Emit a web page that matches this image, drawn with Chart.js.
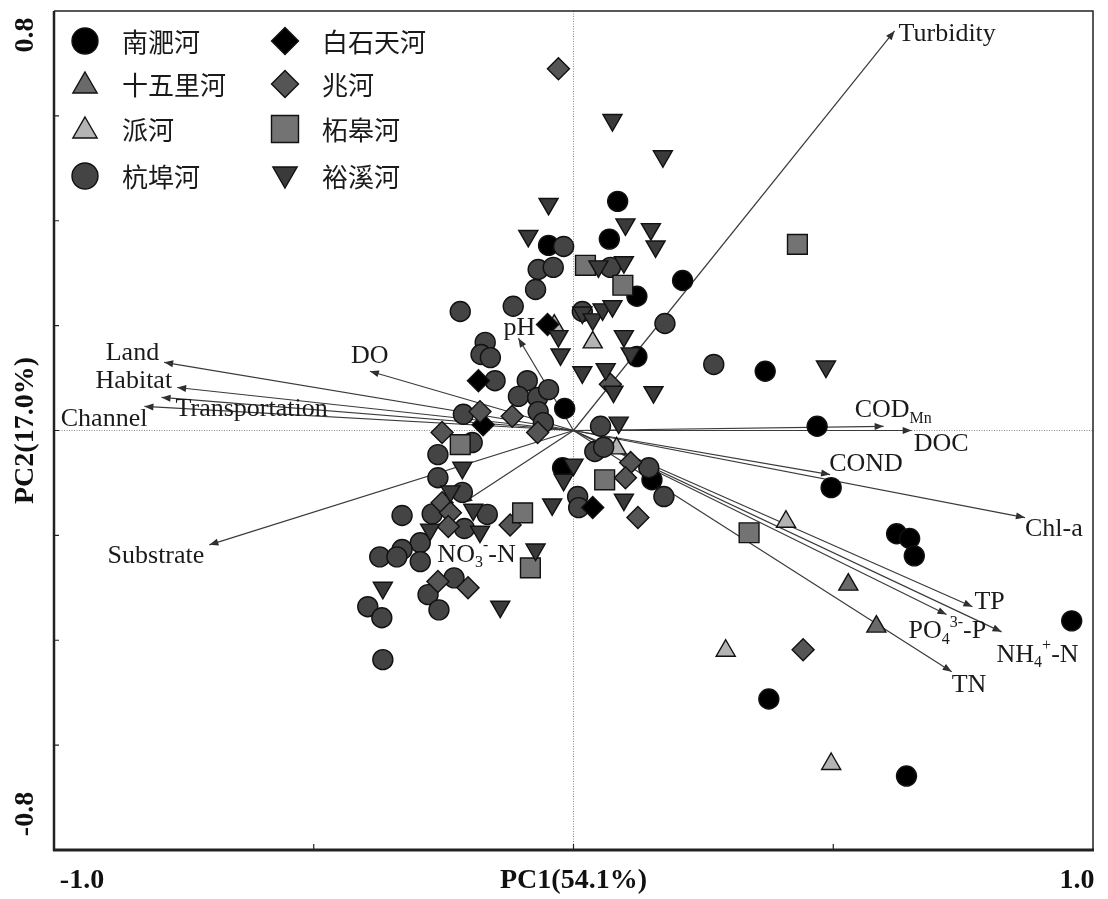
<!DOCTYPE html>
<html lang="zh-CN">
<head>
<meta charset="UTF-8">
<title>PCA</title>
<script src="https://cdn.jsdelivr.net/npm/chart.js"></script>
<style>
  html, body { margin: 0; padding: 0; background: #fff; }
</style>
</head>
<body>
<canvas id="pca" width="1108" height="899"></canvas>
<script>
// sample scores [PC1, PC2] per river
const rivers = ['南淝河', '十五里河', '派河', '杭埠河', '白石天河', '兆河', '柘皋河', '裕溪河'];

const nanfeiX = [0.085, 0.069, 0.210, 0.122, -0.048, 0.122, -0.017, 0.369, 0.469, 0.496, 0.622, 0.647, 0.656, 0.959, 0.376, 0.641, -0.021, 0.151];
const nanfeiY = [0.437, 0.365, 0.286, 0.256, 0.353, 0.141, 0.042, 0.113, 0.008, -0.109, -0.197, -0.206, -0.239, -0.363, -0.512, -0.659, -0.071, -0.094];

const shiwuliX = [0.529, 0.583];
const shiwuliY = [-0.294, -0.374];

const paiX = [-0.037, 0.037, 0.083, 0.409, 0.293, 0.496];
const paiY = [0.200, 0.168, -0.034, -0.174, -0.420, -0.636];

const hangbuX = [-0.019, -0.068, -0.039, -0.073, -0.218, -0.116, -0.170, -0.178, -0.160, -0.151, -0.089, -0.106, -0.069, -0.048, -0.068, -0.058,
  -0.212, -0.195, -0.261, -0.261, -0.214, -0.330, -0.272, -0.166, -0.210, -0.295, -0.330, -0.373, -0.340, -0.295, -0.230, -0.280,
  -0.259, -0.396, -0.369, -0.367, 0.071, 0.017, 0.176, 0.270, 0.052, 0.041, 0.058, 0.008, 0.010, 0.174, 0.145];
const hangbuY = [0.351, 0.307, 0.311, 0.269, 0.227, 0.237, 0.168, 0.145, 0.139, 0.095, 0.095, 0.065, 0.063, 0.078, 0.036, 0.015,
  0.031, -0.023, -0.046, -0.090, -0.118, -0.162, -0.159, -0.160, -0.187, -0.214, -0.227, -0.241, -0.241, -0.250, -0.281, -0.313,
  -0.342, -0.336, -0.357, -0.437, 0.311, 0.227, 0.204, 0.126, 0.008, -0.040, -0.032, -0.126, -0.147, -0.126, -0.071];

const baishiX = [-0.050, -0.183, -0.174, 0.037];
const baishiY = [0.202, 0.095, 0.011, -0.147];

const zhaoX = [-0.029, 0.071, -0.180, -0.118, -0.069, -0.253, -0.253, -0.237, -0.241, -0.122, -0.261, -0.203, 0.110, 0.100, 0.124, 0.442];
const zhaoY = [0.690, 0.088, 0.036, 0.027, -0.004, -0.004, -0.138, -0.157, -0.183, -0.180, -0.288, -0.300, -0.061, -0.090, -0.166, -0.418];

const zhegaoX = [0.431, 0.023, 0.095, -0.218, 0.060, -0.098, -0.083, 0.338];
const zhegaoY = [0.355, 0.315, 0.277, -0.027, -0.094, -0.157, -0.262, -0.195];

const yuxiX = [0.075, 0.172, -0.048, -0.087, 0.100, 0.149, 0.158, 0.048, 0.097, 0.017, 0.037, 0.056, 0.075, 0.097, 0.110, 0.017, 0.062, 0.077,
  0.154, 0.486, 0.087, -0.029, -0.025, -0.214, 0.000, -0.019, -0.237, -0.193, -0.276, -0.180, -0.073, -0.367, -0.141, -0.041, 0.097];
const yuxiY = [0.592, 0.523, 0.432, 0.371, 0.393, 0.384, 0.351, 0.313, 0.321, 0.225, 0.212, 0.231, 0.237, 0.180, 0.147, 0.111, 0.117, 0.074,
  0.073, 0.122, 0.015, 0.180, 0.145, -0.071, -0.065, -0.094, -0.116, -0.151, -0.189, -0.193, -0.227, -0.300, -0.336, -0.141, -0.132];

// environmental loadings (arrow tips)
const loadNames = ['Turbidity', 'Land', 'Habitat', 'Transportation', 'Channel', 'DO', 'pH', 'Substrate', 'NO3-N',
  'CODMn', 'DOC', 'COND', 'Chl-a', 'TP', 'PO4-P', 'NH4-N', 'TN'];
const loadX = [0.618, -0.788, -0.763, -0.793, -0.826, -0.392, -0.106, -0.701, -0.212, 0.597, 0.651, 0.494, 0.869, 0.768, 0.718, 0.824, 0.728];
const loadY = [0.762, 0.130, 0.082, 0.063, 0.046, 0.113, 0.176, -0.218, -0.138, 0.008, 0.000, -0.084, -0.166, -0.336, -0.351, -0.384, -0.460];

const xEndLabels = ['-1.0', '1.0'];
const yEndLabels = ['0.8', '-0.8'];
const xTitle = 'PC1(54.1%)';
const yTitle = 'PC2(17.0%)';

// ---- styling ----
const seriesX = [nanfeiX, shiwuliX, paiX, hangbuX, baishiX, zhaoX, zhegaoX, yuxiX];
const seriesY = [nanfeiY, shiwuliY, paiY, hangbuY, baishiY, zhaoY, zhegaoY, yuxiY];
const styles = [
  { shape: 'circle', fill: '#000000', rot: 0, r: 10 },
  { shape: 'triangle', fill: '#6a6a6a', rot: 0, r: 11 },
  { shape: 'triangle', fill: '#b4b4b4', rot: 0, r: 11 },
  { shape: 'circle', fill: '#444444', rot: 0, r: 10 },
  { shape: 'rectRot', fill: '#000000', rot: 0, r: 11 },
  { shape: 'rectRot', fill: '#555555', rot: 0, r: 11 },
  { shape: 'rect', fill: '#737373', rot: 0, r: 14 },
  { shape: 'triangle', fill: '#3a3a3a', rot: 180, r: 11 }
];

// label text pieces: n = normal, b = subscript, p = superscript
const labelParts = {
  'NO3-N': [['NO', 'n'], ['3', 'b'], ['-', 'p'], ['-N', 'n']],
  'CODMn': [['COD', 'n'], ['Mn', 'b']],
  'PO4-P': [['PO', 'n'], ['4', 'b'], ['3-', 'p'], ['-P', 'n']],
  'NH4-N': [['NH', 'n'], ['4', 'b'], ['+', 'p'], ['-N', 'n']]
};
// label placement relative to arrow tip (px)
const labelPos = {
  'Turbidity': [4, 3, 'left'], 'Land': [-5, -9, 'right'], 'Habitat': [-5, -6, 'right'],
  'Transportation': [14, 12, 'left'], 'Channel': [3, 13, 'right'], 'DO': [0, -15, 'center'],
  'pH': [1, -10, 'center'], 'Substrate': [-5, 11, 'right'], 'NO3-N': [-26, 52, 'left'],
  'CODMn': [-29, -16, 'left'], 'DOC': [2, 14, 'left'], 'COND': [-1, -10, 'left'],
  'Chl-a': [0, 12, 'left'], 'TP': [2, -5, 'left'], 'PO4-P': [-38, 17, 'left'],
  'NH4-N': [-5, 23, 'left'], 'TN': [0, 13, 'left']
};

const datasets = [];
rivers.forEach((name, i) => {
  const s = styles[i];
  datasets.push({
    type: 'scatter',
    label: name,
    data: seriesX[i].map((x, k) => ({ x: x, y: seriesY[i][k] })),
    pointStyle: s.shape,
    pointRotation: s.rot,
    pointRadius: s.r,
    pointHoverRadius: s.r,
    backgroundColor: s.fill,
    borderColor: '#111',
    borderWidth: 1.4,
    order: 100 - i
  });
});
loadNames.forEach((n, i) => {
  datasets.push({
    type: 'line',
    label: n,
    data: [{ x: 0, y: 0 }, { x: loadX[i], y: loadY[i] }],
    borderColor: '#3a3a3a',
    borderWidth: 1.2,
    pointRadius: 0,
    fill: false,
    order: 200
  });
});

function shapePath(ctx, shape, x, y, r, rot) {
  ctx.beginPath();
  if (shape === 'circle') {
    ctx.arc(x, y, r, 0, Math.PI * 2);
  } else if (shape === 'triangle') {
    const d = rot === 180 ? -1 : 1;
    ctx.moveTo(x, y - d * r);
    ctx.lineTo(x + r * 0.866, y + d * r * 0.5);
    ctx.lineTo(x - r * 0.866, y + d * r * 0.5);
  } else if (shape === 'rectRot') {
    ctx.moveTo(x - r, y); ctx.lineTo(x, y - r); ctx.lineTo(x + r, y); ctx.lineTo(x, y + r);
  } else {
    ctx.rect(x - r, y - r, 2 * r, 2 * r);
  }
  ctx.closePath();
}

function drawRich(ctx, parts, x, y, align) {
  const big = '26px "Liberation Serif", serif';
  const small = '16px "Liberation Serif", serif';
  let w = 0;
  parts.forEach(p => { ctx.font = p[1] === 'n' ? big : small; w += ctx.measureText(p[0]).width; });
  let cx = align === 'right' ? x - w : align === 'center' ? x - w / 2 : x;
  ctx.textAlign = 'left';
  parts.forEach(p => {
    ctx.font = p[1] === 'n' ? big : small;
    const dy = p[1] === 'b' ? 8 : p[1] === 'p' ? -9 : 0;
    ctx.fillText(p[0], cx, y + dy);
    cx += ctx.measureText(p[0]).width;
  });
}

const biplot = {
  id: 'biplot',
  beforeDatasetsDraw(chart) {
    const ctx = chart.ctx, a = chart.chartArea;
    const sx = chart.scales.x, sy = chart.scales.y;
    ctx.save();
    ctx.strokeStyle = '#8a8a8a';
    ctx.lineWidth = 1;
    ctx.setLineDash([1, 1.5]);
    ctx.beginPath();
    ctx.moveTo(sx.getPixelForValue(0), a.top); ctx.lineTo(sx.getPixelForValue(0), a.bottom);
    ctx.moveTo(a.left, sy.getPixelForValue(0)); ctx.lineTo(a.right, sy.getPixelForValue(0));
    ctx.stroke();
    ctx.setLineDash([]);
    // arrow heads
    const ox = sx.getPixelForValue(0), oy = sy.getPixelForValue(0);
    ctx.fillStyle = '#2a2a2a';
    loadNames.forEach((n, i) => {
      const tx = sx.getPixelForValue(loadX[i]), ty = sy.getPixelForValue(loadY[i]);
      const ang = Math.atan2(ty - oy, tx - ox);
      const L = 9, W = 3.5;
      ctx.beginPath();
      ctx.moveTo(tx, ty);
      ctx.lineTo(tx - L * Math.cos(ang) + W * Math.sin(ang), ty - L * Math.sin(ang) - W * Math.cos(ang));
      ctx.lineTo(tx - L * Math.cos(ang) - W * Math.sin(ang), ty - L * Math.sin(ang) + W * Math.cos(ang));
      ctx.closePath();
      ctx.fill();
    });
    ctx.restore();
  },
  afterDatasetsDraw(chart) {
    const ctx = chart.ctx, a = chart.chartArea;
    const sx = chart.scales.x, sy = chart.scales.y;
    ctx.save();
    // loading labels
    ctx.fillStyle = '#1a1a1a';
    ctx.textBaseline = 'middle';
    loadNames.forEach((n, i) => {
      const tx = sx.getPixelForValue(loadX[i]), ty = sy.getPixelForValue(loadY[i]);
      const p = labelPos[n];
      drawRich(ctx, labelParts[n] || [[n, 'n']], tx + p[0], ty + p[1], p[2]);
    });
    // legend (two columns)
    const rowsY = [30, 73, 118, 165];
    const legR = { circle: 13, triangle: 14, rectRot: 13.5, rect: 13.5 };
    rivers.forEach((name, i) => {
      const col = Math.floor(i / 4), row = i % 4;
      const mx = a.left + 31 + col * 200, my = a.top + rowsY[row];
      const s = styles[i];
      shapePath(ctx, s.shape, mx, my + (s.shape === 'triangle' ? (s.rot === 180 ? -2 : 2) : 0), legR[s.shape], s.rot);
      ctx.fillStyle = s.fill;
      ctx.fill();
      ctx.lineWidth = 1.4;
      ctx.strokeStyle = '#111';
      ctx.stroke();
      ctx.fillStyle = '#1a1a1a';
      ctx.font = '26px "Noto Sans CJK SC", sans-serif';
      ctx.textAlign = 'left';
      ctx.fillText(name, mx + 37, my + 1);
    });
    // frame
    ctx.strokeStyle = '#222';
    ctx.lineWidth = 1.5;
    ctx.beginPath();
    ctx.moveTo(a.left, a.top); ctx.lineTo(a.right, a.top); ctx.lineTo(a.right, a.bottom);
    ctx.stroke();
    ctx.lineWidth = 2.5;
    ctx.beginPath();
    ctx.moveTo(a.left, a.top); ctx.lineTo(a.left, a.bottom + 1);
    ctx.stroke();
    ctx.lineWidth = 3;
    ctx.beginPath();
    ctx.moveTo(a.left - 1, a.bottom); ctx.lineTo(a.right + 1, a.bottom);
    ctx.stroke();
    // inner ticks
    ctx.lineWidth = 1.2;
    ctx.beginPath();
    [-0.5, 0, 0.5].forEach(v => { const x = sx.getPixelForValue(v); ctx.moveTo(x, a.bottom); ctx.lineTo(x, a.bottom - 6); });
    [-0.6, -0.4, -0.2, 0, 0.2, 0.4, 0.6].forEach(v => { const y = sy.getPixelForValue(v); ctx.moveTo(a.left, y); ctx.lineTo(a.left + 5, y); });
    ctx.stroke();
    // axis texts
    ctx.fillStyle = '#111';
    ctx.font = 'bold 28px "Liberation Serif", serif';
    ctx.textAlign = 'center';
    ctx.textBaseline = 'middle';
    const ly = a.bottom + 31;
    ctx.fillText(xEndLabels[0], a.left + 28, ly);
    ctx.fillText(xTitle, sx.getPixelForValue(0), ly);
    ctx.fillText(xEndLabels[1], a.right - 16, ly);
    const lx = a.left - 28;
    [[yEndLabels[0], a.top + 24], [yTitle, sy.getPixelForValue(0)], [yEndLabels[1], a.bottom - 36]].forEach(t => {
      ctx.save();
      ctx.translate(lx, t[1]);
      ctx.rotate(-Math.PI / 2);
      ctx.fillText(t[0], 0, 0);
      ctx.restore();
    });
    ctx.restore();
  }
};

new Chart(document.getElementById('pca'), {
  type: 'scatter',
  data: { datasets: datasets },
  options: {
    responsive: false,
    animation: false,
    devicePixelRatio: 1,
    layout: { autoPadding: false, padding: { left: 54, right: 15, top: 11, bottom: 49 } },
    plugins: { legend: { display: false }, tooltip: { enabled: false } },
    scales: {
      x: { type: 'linear', min: -1, max: 1, display: false },
      y: { type: 'linear', min: -0.8, max: 0.8, display: false }
    }
  },
  plugins: [biplot]
});
</script>
</body>
</html>
